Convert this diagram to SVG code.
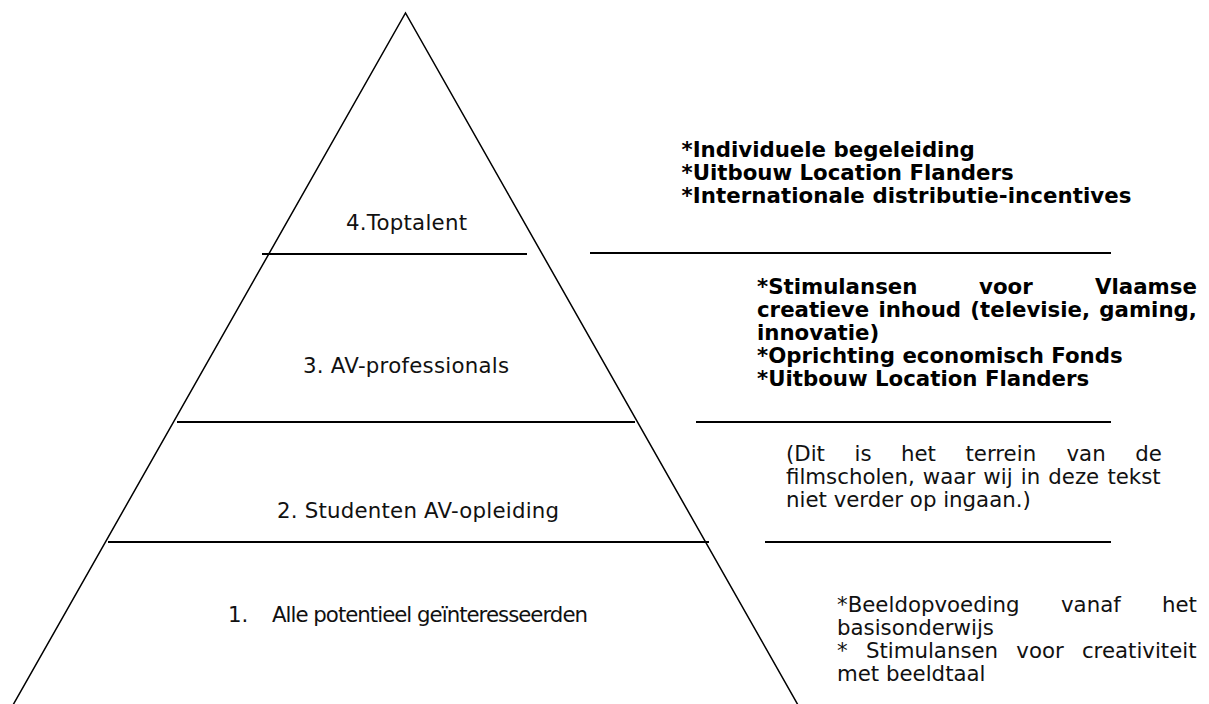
<svg xmlns="http://www.w3.org/2000/svg" width="1209" height="704" viewBox="0 0 1209 704">
<style>
.side{stroke:#000;stroke-width:1.5;fill:none}
.hl{stroke:#000;stroke-width:2;fill:none}
.lbl{font-family:"DejaVu Sans","Verdana",sans-serif;font-size:21.3px;fill:#111}
.b{font-family:"DejaVu Sans","Verdana",sans-serif;font-size:21.3px;font-weight:bold;fill:#000}
.r{font-family:"DejaVu Sans","Verdana",sans-serif;font-size:21.3px;fill:#111}
</style>
<rect width="1209" height="704" fill="#fff"/>
<g id="connectors">
<path class="side" d="M13,705 L405.5,13 L798,705"/>
<line class="hl" x1="262" y1="254" x2="527" y2="254"/>
<line class="hl" x1="177" y1="422" x2="635" y2="422"/>
<line class="hl" x1="108" y1="542" x2="709" y2="542"/>
<line class="hl" x1="590" y1="253" x2="1111" y2="253"/>
<line class="hl" x1="696" y1="422" x2="1111" y2="422"/>
<line class="hl" x1="765" y1="542" x2="1111" y2="542"/>
</g>
<g id="level4">
<text class="lbl" x="346" y="230" textLength="121" lengthAdjust="spacing">4.Toptalent</text>
</g>
<g id="level3">
<text class="lbl" x="303" y="373" textLength="206" lengthAdjust="spacing">3. AV-professionals</text>
</g>
<g id="level2">
<text class="lbl" x="277" y="518" textLength="282" lengthAdjust="spacing">2. Studenten AV-opleiding</text>
</g>
<g id="level1">
<text class="lbl" x="228" y="622">1.</text>
<text class="lbl" x="272" y="622" textLength="316" lengthAdjust="spacing">Alle potentieel geïnteresseerden</text>
</g>
<g id="note4">
<text class="b" x="681.5" y="157">*Individuele begeleiding</text>
<text class="b" x="681.5" y="180">*Uitbouw Location Flanders</text>
<text class="b" x="681.5" y="203" textLength="450" lengthAdjust="spacing">*Internationale distributie-incentives</text>
</g>
<g id="note3">
<text class="b" y="294"><tspan x="757">*Stimulansen</tspan><tspan x="979">voor</tspan><tspan x="1095">Vlaamse</tspan></text>
<text class="b" y="317"><tspan x="757">creatieve</tspan><tspan x="878.4">inhoud</tspan><tspan x="970.3">(televisie,</tspan><tspan x="1099.3">gaming,</tspan></text>
<text class="b" x="757" y="340">innovatie)</text>
<text class="b" x="757" y="363">*Oprichting economisch Fonds</text>
<text class="b" x="757" y="386">*Uitbouw Location Flanders</text>
</g>
<g id="note2">
<text class="r" y="461"><tspan x="786">(Dit</tspan><tspan x="854.5">is</tspan><tspan x="901">het</tspan><tspan x="965.5">terrein</tspan><tspan x="1066.5">van</tspan><tspan x="1135.2">de</tspan></text>
<text class="r" x="786" y="484" word-spacing="1.4">filmscholen, waar wij in deze tekst</text>
<text class="r" x="786" y="507">niet verder op ingaan.)</text>
</g>
<g id="note1">
<text class="r" y="612"><tspan x="837">*Beeldopvoeding</tspan><tspan x="1061">vanaf</tspan><tspan x="1162">het</tspan></text>
<text class="r" x="837" y="635">basisonderwijs</text>
<text class="r" y="658"><tspan x="837">*</tspan><tspan x="865.9">Stimulansen</tspan><tspan x="1016.3">voor</tspan><tspan x="1081.9">creativiteit</tspan></text>
<text class="r" x="837" y="681">met beeldtaal</text>
</g>
</svg>
